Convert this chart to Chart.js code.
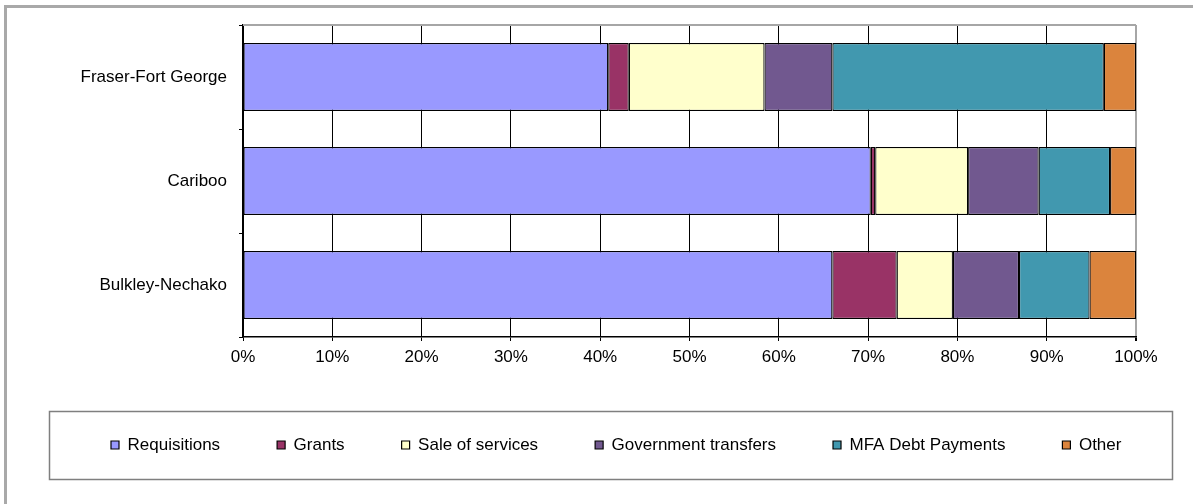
<!DOCTYPE html>
<html>
<head>
<meta charset="utf-8">
<script src="https://cdn.jsdelivr.net/npm/chart.js@4"></script>
<style>
  html, body { margin: 0; padding: 0; background: #fff; }
  #wrap { width: 1193px; height: 504px; }
</style>
</head>
<body>
<div id="wrap"><canvas id="revenueChart" width="1193" height="504"></canvas></div>
<script>
// share of revenue by source, percent of total
const regions = ['Fraser-Fort George', 'Cariboo', 'Bulkley-Nechako'];
const requisitions = [40.9, 70.3, 66.0];
const grants = [2.3, 0.5, 7.2];
const saleOfServices = [15.2, 10.4, 6.3];
const governmentTransfers = [7.6, 7.9, 7.4];
const mfaDebtPayments = [30.4, 8.0, 7.9];
const other = [3.6, 2.9, 5.2];

Chart.defaults.font.family = 'Arial, "Liberation Sans", sans-serif';
Chart.defaults.color = '#000';

function series(label, data, color) {
    return {
        label: label,
        data: data,
        backgroundColor: color,
        borderColor: '#000',
        borderWidth: 1.2,
        borderSkipped: false,
        barPercentage: 0.655,
        categoryPercentage: 1
    };
}

// outer frame, plot top edge and the box round the legend
const frames = {
    id: 'frames',
    beforeDraw(chart) {
        const c = chart.ctx;
        c.save();
        c.fillStyle = '#fff';
        c.fillRect(0, 0, chart.width, chart.height);
        c.fillStyle = '#a9a9a9';
        c.fillRect(4, 5, 3, chart.height - 5);
        c.fillRect(4, 5, chart.width - 4, 3);
        c.restore();
    },
    afterDraw(chart) {
        const c = chart.ctx;
        const a = chart.chartArea;
        c.save();
        c.strokeStyle = '#a6a6a6';
        c.lineWidth = 2;
        c.beginPath();
        c.moveTo(a.left, a.top);
        c.lineTo(a.right, a.top);
        c.stroke();

        const hb = chart.legend.legendHitBoxes[0];
        if (hb) {
            const mid = hb.top + hb.height / 2;
            c.strokeStyle = '#7f7f7f';
            c.lineWidth = 1.5;
            c.strokeRect(49.5, Math.round(mid - 34) + 0.5, 1123, 68);
        }
        c.restore();
    }
};

new Chart(document.getElementById('revenueChart').getContext('2d'), {
    type: 'bar',
    data: {
        labels: regions,
        datasets: [
            series('Requisitions', requisitions, '#9999ff'),
            series('Grants', grants, '#993366'),
            series('Sale of services', saleOfServices, '#ffffcc'),
            series('Government transfers', governmentTransfers, '#71588f'),
            series('MFA Debt Payments', mfaDebtPayments, '#4198af'),
            series('Other', other, '#db843d')
        ]
    },
    options: {
        indexAxis: 'y',
        responsive: false,
        animation: false,
        layout: {
            padding: { left: 54, right: 0, top: 25, bottom: 44.5 }
        },
        plugins: {
            legend: {
                position: 'bottom',
                align: 'start',
                maxHeight: 80,
                labels: {
                    boxWidth: 8,
                    boxHeight: 8,
                    padding: 57,
                    color: '#000',
                    font: { size: 17 }
                }
            },
            tooltip: { enabled: false }
        },
        scales: {
            x: {
                stacked: true,
                min: 0,
                max: 100,
                ticks: {
                    stepSize: 10,
                    autoSkip: false,
                    maxRotation: 0,
                    padding: 6,
                    font: { size: 17 },
                    callback: v => v + '%'
                },
                grid: {
                    color: ctx => ctx.index === 10 ? '#a6a6a6' : '#000',
                    lineWidth: ctx => ctx.index === 10 ? 2 : 1,
                    tickLength: 4,
                    tickColor: '#000'
                },
                border: { color: '#000', width: 1.5 },
                afterFit: s => { s.height = 42.5; }
            },
            y: {
                stacked: true,
                ticks: { padding: 12, font: { size: 17 } },
                grid: {
                    drawOnChartArea: false,
                    offset: true,
                    tickLength: 4,
                    color: '#000'
                },
                border: { color: '#000', width: 1.5 },
                afterFit: s => { s.width = 189; }
            },
            yRight: {
                type: 'linear',
                position: 'right',
                grid: { display: false },
                ticks: { display: false },
                border: { display: false },
                afterFit: s => { s.width = 57; }
            }
        }
    },
    plugins: [frames]
});
</script>
</body>
</html>
